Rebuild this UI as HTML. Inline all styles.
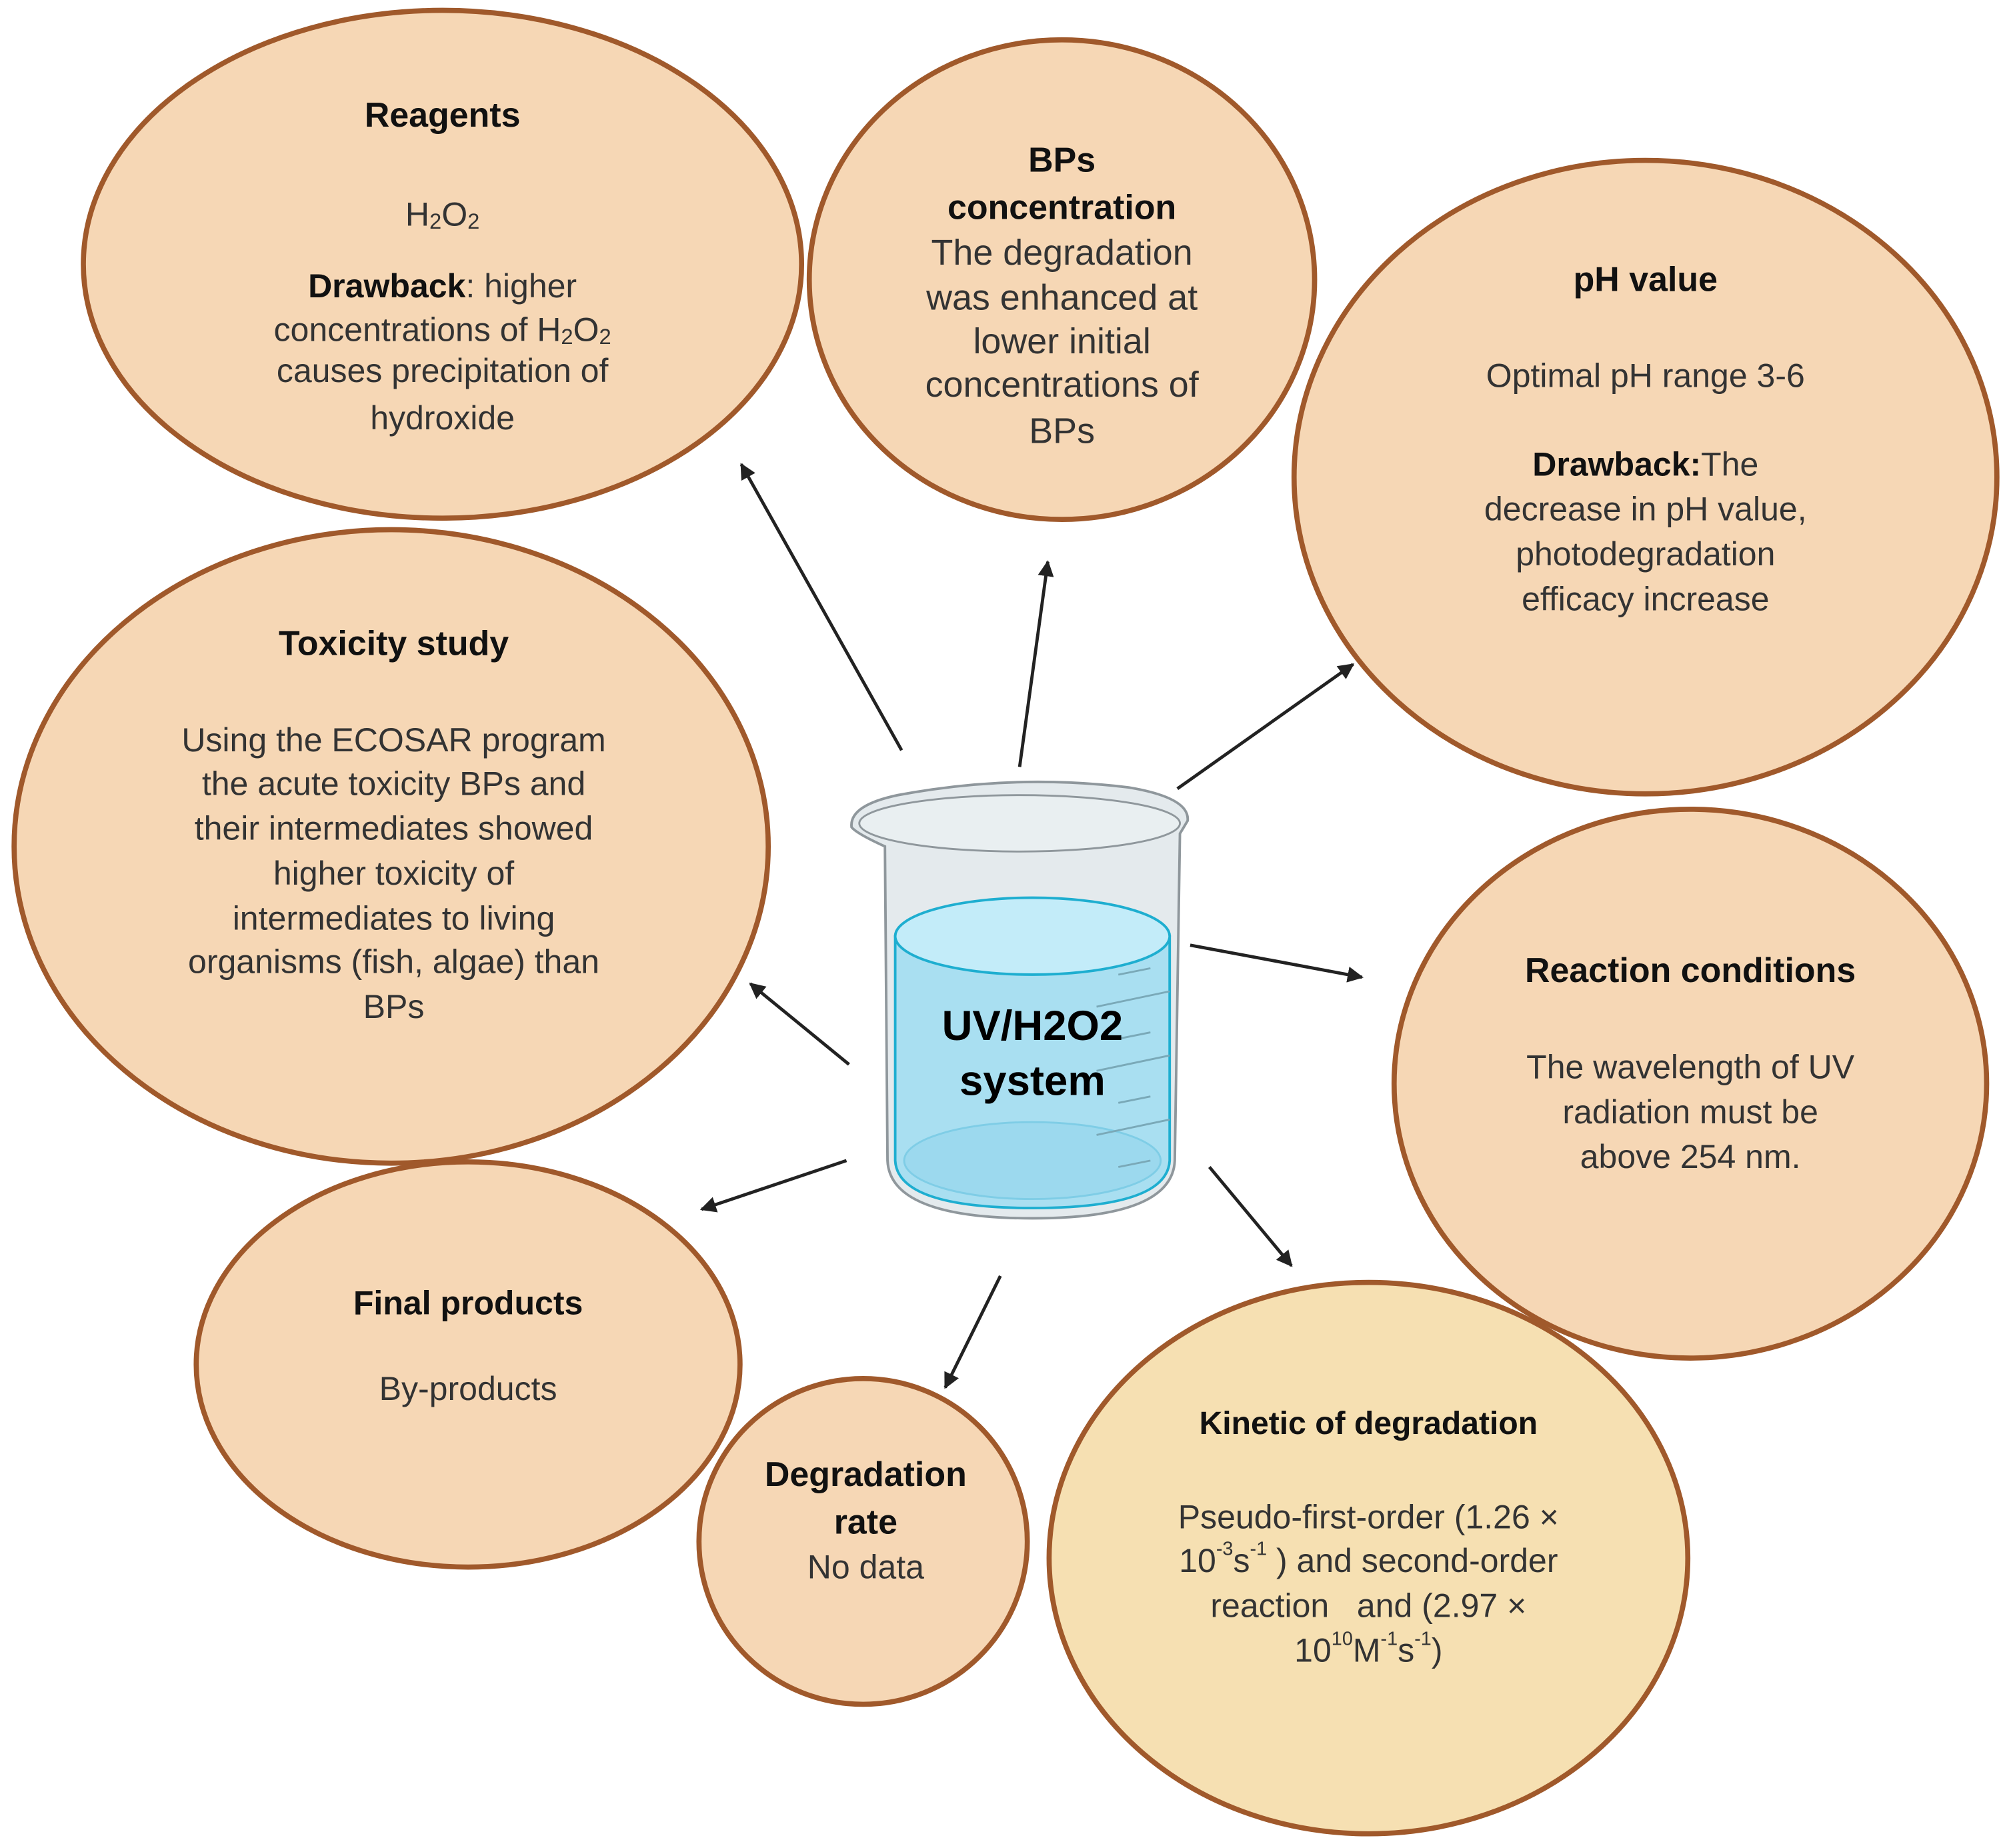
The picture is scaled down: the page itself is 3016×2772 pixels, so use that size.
<!DOCTYPE html>
<html><head><meta charset="utf-8"><style>
html,body{margin:0;padding:0;background:#fff}
svg{display:block}
text{font-family:"Liberation Sans",sans-serif;fill:#222;text-anchor:middle;dominant-baseline:central}
.t{font-weight:bold;font-size:27px;fill:#111}
.b{font-size:26px;fill:#333}
</style></head><body>
<svg width="3016" height="2772" viewBox="0 0 1568 1441" xmlns="http://www.w3.org/2000/svg">
<defs>
<marker id="a" viewBox="0 0 10 10" refX="9" refY="5" markerWidth="5" markerHeight="5" orient="auto"><path d="M0,0 L10,5 L0,10 z" fill="#222"/></marker>
</defs>
<g stroke="#a0592b" stroke-width="4" fill="#f6d7b5">
<ellipse cx="345" cy="206" rx="280" ry="198"/>
<ellipse cx="828" cy="218" rx="197" ry="187"/>
<ellipse cx="1283" cy="372" rx="274" ry="247"/>
<ellipse cx="305" cy="660" rx="294" ry="247"/>
<ellipse cx="1318" cy="845" rx="231" ry="214"/>
<ellipse cx="365" cy="1064" rx="212" ry="158"/>
<ellipse cx="673" cy="1202" rx="128" ry="127"/>
<ellipse cx="1067" cy="1215" rx="249" ry="215" fill="#f6e0b2"/>
</g>
<g stroke="#222" stroke-width="2.5" marker-end="url(#a)">
<line x1="703" y1="585" x2="578" y2="362"/>
<line x1="795" y1="598" x2="817" y2="438"/>
<line x1="918" y1="615" x2="1055" y2="518"/>
<line x1="928" y1="737" x2="1062" y2="762"/>
<line x1="943" y1="910" x2="1007" y2="987"/>
<line x1="780" y1="995" x2="737" y2="1082"/>
<line x1="660" y1="905" x2="547" y2="943"/>
<line x1="662" y1="830" x2="585" y2="767"/>
</g>
<!-- beaker -->
<path d="M690,660 Q668,650 664,645 Q662,628 700,620 Q790,603 880,614 Q928,622 926,640 L920,650 L916,905 Q914,950 805,950 Q694,950 692,905 Z" fill="#e4eaed" stroke="#8f979c" stroke-width="2"/>
<path d="M698,730 L698,905 Q700,942 805,942 Q910,942 912,905 L912,730 Z" fill="#a9dff1" stroke="#1eaed0" stroke-width="2"/>
<ellipse cx="805" cy="730" rx="107" ry="30" fill="#c3ecf9" stroke="#1eaed0" stroke-width="2"/>
<ellipse cx="805" cy="905" rx="100" ry="30" fill="#9cd9ee" stroke="#7fcde6" stroke-width="1.5"/>
<ellipse cx="795" cy="642" rx="125" ry="22" fill="#e9eff1" stroke="#8f979c" stroke-width="1.5"/>
<g stroke="#7aa9b8" stroke-width="1.5">
<line x1="872" y1="760" x2="897" y2="755"/><line x1="855" y1="785" x2="912" y2="773"/>
<line x1="872" y1="810" x2="897" y2="805"/><line x1="855" y1="835" x2="912" y2="823"/>
<line x1="872" y1="860" x2="897" y2="855"/><line x1="855" y1="885" x2="912" y2="873"/>
<line x1="872" y1="910" x2="897" y2="905"/>
</g>
<text x="805" y="800" style="font-weight:bold;font-size:33px;fill:#000">UV/H2O2</text>
<text x="805" y="843" style="font-weight:bold;font-size:33px;fill:#000">system</text>

<text class="t" x="345" y="90">Reagents</text>
<text class="b" x="345" y="167">H<tspan font-size="17" dy="5">2</tspan><tspan dy="-5">O</tspan><tspan font-size="17" dy="5">2</tspan></text>
<text class="b" x="345" y="223"><tspan font-weight="bold" fill="#111">Drawback</tspan>: higher</text>
<text class="b" x="345" y="257">concentrations of H<tspan font-size="17" dy="5">2</tspan><tspan dy="-5">O</tspan><tspan font-size="17" dy="5">2</tspan></text>
<text class="b" x="345" y="289">causes precipitation of</text>
<text class="b" x="345" y="326">hydroxide</text>

<text class="t" x="828" y="125">BPs</text>
<text class="t" x="828" y="162">concentration</text>
<text class="b" x="828" y="197" style="font-size:28px">The degradation</text>
<text class="b" x="828" y="232" style="font-size:28px">was enhanced at</text>
<text class="b" x="828" y="266" style="font-size:28px">lower initial</text>
<text class="b" x="828" y="300" style="font-size:28px">concentrations of</text>
<text class="b" x="828" y="336" style="font-size:28px">BPs</text>

<text class="t" x="1283" y="218">pH value</text>
<text class="b" x="1283" y="293">Optimal pH range 3-6</text>
<text class="b" x="1283" y="362"><tspan font-weight="bold" fill="#111">Drawback:</tspan>The</text>
<text class="b" x="1283" y="397">decrease in pH value,</text>
<text class="b" x="1283" y="432">photodegradation</text>
<text class="b" x="1283" y="467">efficacy increase</text>

<text class="t" x="307" y="502">Toxicity study</text>
<text class="b" x="307" y="577">Using the ECOSAR program</text>
<text class="b" x="307" y="611">the acute toxicity BPs and</text>
<text class="b" x="307" y="646">their intermediates showed</text>
<text class="b" x="307" y="681">higher toxicity of</text>
<text class="b" x="307" y="716">intermediates to living</text>
<text class="b" x="307" y="750">organisms (fish, algae) than</text>
<text class="b" x="307" y="785">BPs</text>

<text class="t" x="1318" y="757">Reaction conditions</text>
<text class="b" x="1318" y="832">The wavelength of UV</text>
<text class="b" x="1318" y="867">radiation must be</text>
<text class="b" x="1318" y="902">above 254 nm.</text>

<text class="t" x="365" y="1016" style="font-size:26px">Final products</text>
<text class="b" x="365" y="1083">By-products</text>

<text class="t" x="675" y="1150">Degradation</text>
<text class="t" x="675" y="1187">rate</text>
<text class="b" x="675" y="1222">No data</text>

<text class="t" x="1067" y="1110" style="font-size:25px">Kinetic of degradation</text>
<text class="b" x="1067" y="1183">Pseudo-first-order (1.26 ×</text>
<text class="b" x="1067" y="1217">10<tspan font-size="15" dy="-9">-3</tspan><tspan dy="9">s</tspan><tspan font-size="15" dy="-9">-1</tspan><tspan dy="9"> ) and second-order</tspan></text>
<text class="b" x="1067" y="1252" xml:space="preserve">reaction   and (2.97 ×</text>
<text class="b" x="1067" y="1287">10<tspan font-size="15" dy="-9">10</tspan><tspan dy="9">M</tspan><tspan font-size="15" dy="-9">-1</tspan><tspan dy="9">s</tspan><tspan font-size="15" dy="-9">-1</tspan><tspan dy="9">)</tspan></text>
</svg>
</body></html>
